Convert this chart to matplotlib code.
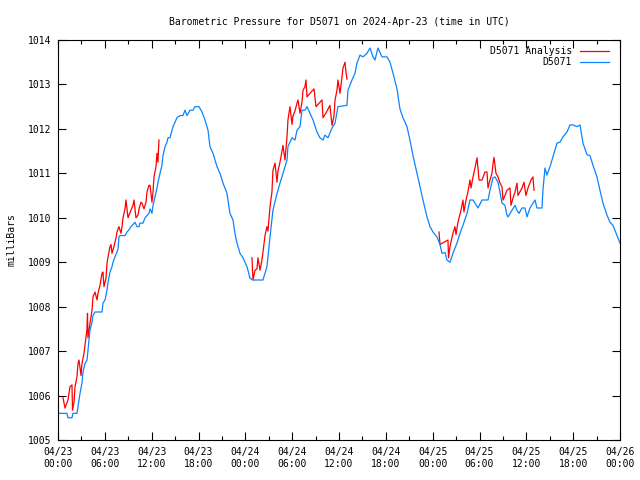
import numpy as np
import matplotlib
matplotlib.use('Agg')
import matplotlib.pyplot as plt
from matplotlib.ticker import MultipleLocator

# hours since 2024-04-23 00:00 UTC, pressure in mb
obs_hours = [0.0, 1.15, 1.28, 1.79, 1.92, 2.43, 2.56, 2.82, 3.07, 3.20, 3.46, 3.72, 3.84, 3.97,
             4.10, 4.36, 4.48, 4.74, 5.64, 5.76, 6.02, 6.28, 6.41, 6.66, 6.92, 7.05, 7.30, 7.56,
             7.69, 7.81, 7.94, 8.58, 8.84, 9.10, 9.35, 9.61, 9.86, 10.12, 10.38, 10.50, 10.89,
             11.15, 11.40, 11.66, 11.79, 12.04, 12.17, 12.43, 12.68, 12.81, 13.07, 13.32, 13.45,
             13.71, 13.96, 14.09, 14.35, 14.73, 15.24, 15.63, 16.01, 16.27, 16.53, 16.91, 17.29,
             17.55, 18.06, 18.45, 18.83, 19.22, 19.47, 19.86, 20.37, 20.75, 21.14, 21.65, 22.03,
             22.42, 22.67, 22.93, 23.32, 23.70, 24.21, 24.60, 24.98, 26.26, 26.77, 27.16, 27.54,
             28.06, 28.44, 28.82, 29.34, 29.46, 29.98, 30.36, 30.62, 31.00, 31.26, 31.64, 31.90,
             32.28, 32.67, 33.18, 33.56, 33.95, 34.20, 34.59, 35.10, 35.49, 35.87, 37.02, 37.15,
             37.66, 38.05, 38.30, 38.69, 39.07, 39.58, 39.97, 40.35, 40.61, 40.99, 41.51, 42.15,
             42.53, 42.92, 43.43, 43.81, 44.20, 44.71, 45.09, 45.48, 45.99, 46.38, 46.76, 47.27,
             47.66, 48.04, 48.55, 48.94, 49.19, 49.58, 49.83, 50.22, 50.60, 51.11, 51.50, 51.88,
             52.40, 52.78, 53.17, 53.81, 54.32, 55.09, 55.34, 55.73, 55.98, 56.37, 56.62, 56.88,
             57.26, 57.52, 57.65, 58.16, 58.55, 58.80, 59.06, 59.44, 59.83, 60.08, 60.47, 60.85,
             61.11, 61.36, 62.00, 62.13, 62.39, 62.64, 63.03, 63.41, 63.93, 64.31, 64.69, 65.21,
             65.59, 65.98, 66.49, 66.87, 67.26, 67.77, 68.15, 68.54, 69.05, 69.43, 69.82, 70.33,
             70.72, 71.10, 71.61, 72.0]
obs_mb = [1005.6, 1005.6, 1005.5, 1005.5, 1005.6, 1005.6, 1005.75, 1006.05, 1006.28, 1006.53,
          1006.72, 1006.8, 1007.02, 1007.25, 1007.47, 1007.65, 1007.8, 1007.88, 1007.88, 1008.08,
          1008.15, 1008.37, 1008.55, 1008.78, 1008.9, 1009.0, 1009.12, 1009.23, 1009.3, 1009.57,
          1009.6, 1009.6, 1009.68, 1009.73, 1009.8, 1009.85, 1009.9, 1009.8, 1009.8, 1009.88,
          1009.88, 1010.0, 1010.05, 1010.1, 1010.2, 1010.1, 1010.28, 1010.47, 1010.67, 1010.8,
          1011.0, 1011.18, 1011.4, 1011.6, 1011.7, 1011.8, 1011.8, 1012.05, 1012.25, 1012.3,
          1012.3, 1012.42, 1012.3, 1012.42, 1012.42, 1012.5, 1012.5, 1012.38, 1012.2, 1011.97,
          1011.6, 1011.45, 1011.15, 1011.0, 1010.78, 1010.55, 1010.1, 1009.95, 1009.65, 1009.43,
          1009.2, 1009.1, 1008.9, 1008.64, 1008.6, 1008.6, 1008.9, 1009.57, 1010.17, 1010.55,
          1010.78, 1011.0, 1011.3, 1011.6, 1011.8, 1011.75, 1011.97, 1012.05, 1012.42, 1012.42,
          1012.5, 1012.35, 1012.2, 1011.93, 1011.8, 1011.75, 1011.86, 1011.8, 1012.02, 1012.13,
          1012.5, 1012.53, 1012.87, 1013.1, 1013.25, 1013.48, 1013.66, 1013.62, 1013.7, 1013.82,
          1013.62, 1013.55, 1013.82, 1013.62, 1013.62, 1013.5, 1013.25, 1012.9, 1012.45, 1012.25,
          1012.05, 1011.75, 1011.4, 1011.0, 1010.7, 1010.4, 1010.02, 1009.8, 1009.68, 1009.57,
          1009.4, 1009.2, 1009.22, 1009.05, 1009.0, 1009.2, 1009.43, 1009.65, 1009.83, 1010.1,
          1010.4, 1010.4, 1010.22, 1010.4, 1010.4, 1010.62, 1010.9, 1010.92, 1010.8, 1010.58,
          1010.33, 1010.28, 1010.06, 1010.02, 1010.17, 1010.28, 1010.17, 1010.1, 1010.22, 1010.22,
          1010.02, 1010.22, 1010.33, 1010.4, 1010.22, 1010.22, 1010.62, 1011.12, 1010.96, 1011.15,
          1011.37, 1011.68, 1011.7, 1011.82, 1011.93, 1012.09, 1012.09, 1012.05, 1012.09, 1011.68,
          1011.42, 1011.4, 1011.18, 1010.92, 1010.62, 1010.33, 1010.06, 1009.9, 1009.83, 1009.6,
          1009.43]

# analysis runs (three separate pieces)
ana1_hours = [0.64, 0.90, 1.28, 1.54, 1.79, 1.86, 2.05, 2.18, 2.43, 2.56, 2.69, 2.95, 3.07,
              3.33, 3.59, 3.70, 3.78, 3.84, 4.10, 4.36, 4.48, 4.74, 5.0, 5.12, 5.38, 5.64, 5.76,
              5.89, 6.15, 6.28, 6.41, 6.66, 6.79, 6.92, 7.17, 7.43, 7.56, 7.81, 8.07, 8.20, 8.33,
              8.58, 8.71, 8.97, 9.10, 9.35, 9.61, 9.74, 9.99, 10.25, 10.38, 10.63, 10.76, 11.02,
              11.27, 11.40, 11.66, 11.79, 12.04, 12.17, 12.30, 12.55, 12.68, 12.81, 12.87, 12.94]
ana1_mb = [1005.95, 1005.72, 1005.9, 1006.2, 1006.24, 1005.67, 1005.85, 1006.2, 1006.42, 1006.72,
           1006.8, 1006.45, 1006.72, 1006.95, 1007.32, 1007.47, 1007.85, 1007.3, 1007.63, 1007.92,
           1008.22, 1008.33, 1008.15, 1008.3, 1008.48, 1008.75, 1008.78, 1008.45, 1008.64, 1008.98,
           1009.12, 1009.35, 1009.4, 1009.2, 1009.35, 1009.55, 1009.68, 1009.8, 1009.65, 1009.8,
           1010.0, 1010.2, 1010.4, 1010.0, 1010.06, 1010.17, 1010.28, 1010.4, 1010.0, 1010.06,
           1010.2, 1010.35, 1010.33, 1010.2, 1010.35, 1010.58, 1010.73, 1010.73, 1010.35, 1010.58,
           1010.92, 1011.15, 1011.45, 1011.25, 1011.52, 1011.75]

ana2_hours = [24.85, 24.98, 25.24, 25.49, 25.62, 25.88, 26.13, 26.26, 26.52, 26.77, 26.90, 27.16,
              27.41, 27.54, 27.80, 28.06, 28.18, 28.44, 28.70, 28.82, 29.08, 29.34, 29.46, 29.72,
              29.98, 30.11, 30.36, 30.62, 30.75, 31.00, 31.26, 31.39, 31.64, 31.77, 31.90, 32.28,
              32.80, 33.05, 33.82, 33.95, 34.46, 34.84, 35.10, 35.36, 35.49, 35.74, 35.87, 36.13,
              36.38, 36.51, 36.77, 36.89, 37.02]
ana2_mb = [1009.1, 1008.6, 1008.82, 1008.85, 1009.1, 1008.82, 1009.05, 1009.23, 1009.6, 1009.8,
           1009.7, 1010.25, 1010.58, 1011.07, 1011.23, 1010.8, 1011.05, 1011.25, 1011.5, 1011.63,
           1011.3, 1011.82, 1012.2, 1012.5, 1012.1, 1012.3, 1012.4, 1012.58, 1012.65, 1012.35,
           1012.6, 1012.87, 1012.95, 1013.1, 1012.72, 1012.8, 1012.9, 1012.5, 1012.65, 1012.25,
           1012.4, 1012.53, 1012.08, 1012.3, 1012.65, 1012.87, 1013.1, 1012.8, 1013.17, 1013.37,
           1013.5, 1013.28, 1013.12]

ana3_hours = [48.81, 48.94, 49.96, 50.03, 50.22, 50.60, 50.86, 50.99, 51.24, 51.63, 51.88, 52.01,
              52.27, 52.52, 52.78, 52.91, 53.17, 53.42, 53.68, 53.94, 54.32, 54.70, 54.96, 55.09,
              55.34, 55.60, 55.73, 55.86, 56.11, 56.37, 56.62, 56.88, 57.01, 57.26, 57.52, 57.90,
              58.03, 58.29, 58.55, 58.80, 58.93, 59.44, 59.70, 59.95, 60.21, 60.60, 60.85, 60.98]
ana3_mb = [1009.68, 1009.4, 1009.5, 1009.1, 1009.35, 1009.65, 1009.8, 1009.62, 1009.9, 1010.17,
           1010.4, 1010.13, 1010.4, 1010.58, 1010.85, 1010.67, 1010.92, 1011.12, 1011.35, 1010.85,
           1010.85, 1011.03, 1011.03, 1010.67, 1010.85, 1011.0, 1011.22, 1011.36, 1011.0, 1010.92,
           1010.78, 1010.7, 1010.4, 1010.5, 1010.62, 1010.67, 1010.28, 1010.44, 1010.58, 1010.78,
           1010.5, 1010.67, 1010.8, 1010.5, 1010.67, 1010.85, 1010.92, 1010.62]

tick_hours = list(range(0, 73, 6))
tick_labels = ['04/23\n00:00', '04/23\n06:00', '04/23\n12:00', '04/23\n18:00',
               '04/24\n00:00', '04/24\n06:00', '04/24\n12:00', '04/24\n18:00',
               '04/25\n00:00', '04/25\n06:00', '04/25\n12:00', '04/25\n18:00',
               '04/26\n00:00']

plt.rcParams['font.family'] = ['DejaVu Sans Mono']
plt.rcParams['font.size'] = 7

fig = plt.figure(figsize=(6.4, 4.8), dpi=100)
ax = fig.add_axes([58 / 640, 40 / 480, 562 / 640, 400 / 480])

red = '#ff0000'
blue = '#0a84ff'
ax.plot(ana1_hours, ana1_mb, color=red, lw=0.9, label='D5071 Analysis')
ax.plot(ana2_hours, ana2_mb, color=red, lw=0.9)
ax.plot(ana3_hours, ana3_mb, color=red, lw=0.9)
ax.plot(obs_hours, obs_mb, color=blue, lw=0.9, label='D5071')

ax.set_xlim(0, 72)
ax.set_ylim(1005, 1014)
ax.set_xticks(tick_hours)
ax.set_xticklabels(tick_labels)
ax.xaxis.set_minor_locator(MultipleLocator(3))
ax.yaxis.set_major_locator(MultipleLocator(1))
ax.tick_params(which='both', direction='in', top=True, right=True, width=0.8, pad=5)
ax.tick_params(which='major', length=6)
ax.tick_params(which='minor', length=3)
for s in ax.spines.values():
    s.set_linewidth(0.8)

ax.set_ylabel('milliBars', labelpad=8)
ax.set_title('Barometric Pressure for D5071 on 2024-Apr-23 (time in UTC)', fontsize=7, pad=11)
ax.legend(loc='upper right', bbox_to_anchor=(0.984, 0.99), frameon=False, markerfirst=False,
          handlelength=3.0, handletextpad=0.8, labelspacing=0.15, borderaxespad=0,
          borderpad=0.2)

plt.savefig('out.png', dpi=100)
